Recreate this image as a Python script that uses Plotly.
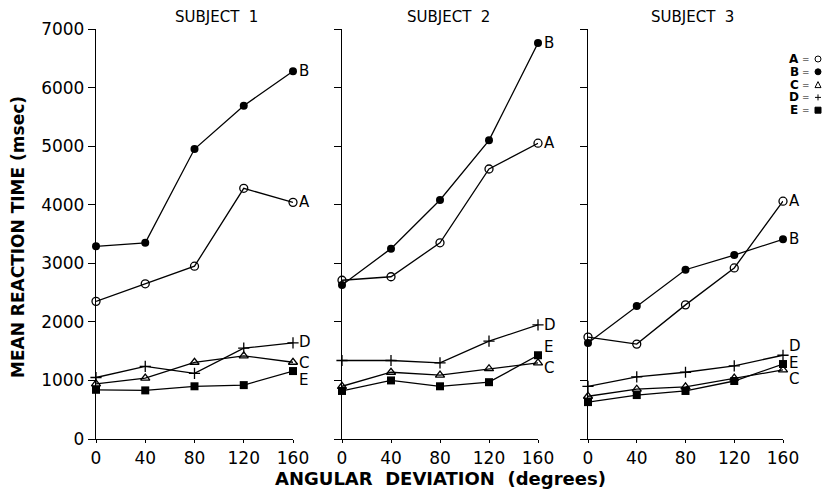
import plotly.graph_objects as go

angles = [0, 40, 80, 120, 160]
subjects = ["SUBJECT 1", "SUBJECT 2", "SUBJECT 3"]
y_ticks = [0, 1000, 2000, 3000, 4000, 5000, 6000, 7000]

# Mean reaction time (msec) per subject per condition
s1_A = [2350, 2650, 2950, 4280, 4040]
s1_B = [3290, 3350, 4950, 5690, 6280]
s1_C = [940, 1040, 1310, 1420, 1310]
s1_D = [1050, 1240, 1120, 1550, 1640]
s1_E = [840, 830, 900, 920, 1160]

s2_A = [2710, 2770, 3350, 4610, 5050]
s2_B = [2630, 3250, 4080, 5100, 6760]
s2_C = [900, 1140, 1090, 1200, 1300]
s2_D = [1340, 1340, 1300, 1670, 1950]
s2_E = [820, 1000, 900, 970, 1430]

s3_A = [1740, 1620, 2290, 2920, 4060]
s3_B = [1640, 2270, 2890, 3140, 3410]
s3_C = [730, 850, 890, 1040, 1180]
s3_D = [900, 1060, 1140, 1250, 1430]
s3_E = [630, 750, 820, 990, 1280]

data = [
    {"A": s1_A, "B": s1_B, "C": s1_C, "D": s1_D, "E": s1_E},
    {"A": s2_A, "B": s2_B, "C": s2_C, "D": s2_D, "E": s2_E},
    {"A": s3_A, "B": s3_B, "C": s3_C, "D": s3_D, "E": s3_E},
]

# label pixel offsets (yshift) for end labels per panel
label_shift = [
    {"A": 0, "B": 0, "C": -1, "D": 1, "E": -9},
    {"A": 0, "B": 0, "C": -5, "D": 0, "E": 8},
    {"A": 0, "B": 0, "C": -9, "D": 9, "E": 1},
]

markers = {
    "A": dict(symbol="circle-open", size=8, color="black", line=dict(width=1.3, color="black")),
    "B": dict(symbol="circle", size=8, color="black"),
    "C": dict(symbol="triangle-up-open", size=8, color="black", line=dict(width=1.3, color="black")),
    "D": dict(symbol="cross-thin-open", size=8, color="black", line=dict(width=1.3, color="black")),
    "E": dict(symbol="square", size=8, color="black"),
}

# The page body has an 8px margin; size the figure so it fills the 833x497 window.
OFF = 8
W, H = 833 - OFF, 497 - OFF
ml, mt = 96 - OFF, 29 - OFF
mr, mb = 833 - 783, 497 - 439
pw = W - ml - mr
ph = H - mt - mb
domains = [
    [0.0, (293 - 96) / pw],
    [(342 - 96) / pw, (538 - 96) / pw],
    [(588 - 96) / pw, 1.0],
]

def px_x(px):
    return (px - 96) / pw

def px_y(py):
    return (439 - py) / ph

FONT = "DejaVu Sans"
fig = go.Figure()
annotations = []

for i, d in enumerate(data):
    xa = "x" if i == 0 else f"x{i+1}"
    ya = "y" if i == 0 else f"y{i+1}"
    for k in ["D", "C", "E", "A", "B"]:
        fig.add_trace(go.Scatter(
            x=angles, y=d[k], mode="lines+markers", xaxis=xa, yaxis=ya,
            line=dict(color="black", width=1.3), marker=markers[k],
            cliponaxis=False, showlegend=False, name=k,
        ))
        annotations.append(dict(
            x=angles[-1], y=d[k][-1], xref=xa, yref=ya, text=k, showarrow=False,
            xanchor="left", yanchor="middle", xshift=5, yshift=label_shift[i][k],
            font=dict(family=FONT, size=15, color="black"), borderpad=0,
        ))

layout = dict(
    width=W, height=H, margin=dict(l=ml, r=mr, t=mt, b=mb),
    paper_bgcolor="white", plot_bgcolor="white",
    font=dict(family=FONT, color="black"),
)
for i in range(3):
    sx = "" if i == 0 else str(i + 1)
    layout[f"xaxis{sx}"] = dict(
        domain=domains[i], range=[0, 160], tickvals=angles, ticktext=[str(a) for a in angles],
        showgrid=False, zeroline=False, showline=True, linecolor="black", linewidth=1.3,
        ticks="outside", ticklen=3, tickcolor="black",
        tickfont=dict(family=FONT, size=17, color="black"),
        anchor="y" if i == 0 else f"y{i+1}", fixedrange=True,
    )
    layout[f"yaxis{sx}"] = dict(
        range=[0, 7000], tickvals=y_ticks,
        ticktext=[str(v) for v in y_ticks],
        showticklabels=(i == 0),
        showgrid=False, zeroline=False, showline=True, linecolor="black", linewidth=1.3,
        ticks="outside", ticklen=7, tickcolor="black",
        tickfont=dict(family=FONT, size=17, color="black"),
        anchor="x" if i == 0 else f"x{i+1}",
    )
fig.update_layout(**layout)

# Subject titles
title_px = [216, 448, 692]
for t, px in zip(subjects, title_px):
    annotations.append(dict(
        x=px_x(px), y=px_y(17), xref="paper", yref="paper",
        text=t.replace(" ", "\u00a0\u00a0"), showarrow=False, xanchor="center", yanchor="middle",
        font=dict(family=FONT, size=15, color="black"),
    ))

# Axis titles
annotations.append(dict(
    x=px_x(18), y=px_y(237), xref="paper", yref="paper",
    text="<b>MEAN REACTION TIME (msec)</b>", textangle=-90, showarrow=False,
    xanchor="center", yanchor="middle", font=dict(family=FONT, size=17, color="black"),
))
annotations.append(dict(
    x=px_x(440), y=px_y(478), xref="paper", yref="paper",
    text="<b>ANGULAR\u00a0\u00a0DEVIATION\u00a0\u00a0(degrees)</b>", showarrow=False,
    xanchor="center", yanchor="middle", font=dict(family=FONT, size=18, color="black"),
))

# Legend key (letters as text, symbols as paper-referenced shapes)
legend_keys = ["A", "B", "C", "D", "E"]
legend_py = [59 + 12.8 * j for j in range(5)]
shapes = []
sx0 = 818
r = 3.0
for k, py in zip(legend_keys, legend_py):
    y = px_y(py)
    annotations.append(dict(
        x=px_x(794), y=y, xref="paper", yref="paper",
        text=f"<b>{k}</b>", showarrow=False, xanchor="center", yanchor="middle",
        font=dict(family=FONT, size=12, color="black"), borderpad=0,
    ))
    annotations.append(dict(
        x=px_x(806), y=y, xref="paper", yref="paper",
        text="=", showarrow=False, xanchor="center", yanchor="middle",
        font=dict(family=FONT, size=9, color="black"), borderpad=0,
    ))
    x0, x1 = px_x(sx0 - r), px_x(sx0 + r)
    y0, y1 = px_y(py + r), px_y(py - r)
    if k == "A":
        shapes.append(dict(type="circle", xref="paper", yref="paper", x0=x0, x1=x1, y0=y0, y1=y1,
                           line=dict(color="black", width=1), fillcolor="white"))
    elif k == "B":
        shapes.append(dict(type="circle", xref="paper", yref="paper", x0=x0, x1=x1, y0=y0, y1=y1,
                           line=dict(color="black", width=1), fillcolor="black"))
    elif k == "C":
        shapes.append(dict(type="path", xref="paper", yref="paper",
                           path=f"M {x0} {y0} L {x1} {y0} L {px_x(sx0)} {y1} Z",
                           line=dict(color="black", width=1)))
    elif k == "D":
        shapes.append(dict(type="line", xref="paper", yref="paper", x0=x0, x1=x1, y0=px_y(py), y1=px_y(py),
                           line=dict(color="black", width=1)))
        shapes.append(dict(type="line", xref="paper", yref="paper", x0=px_x(sx0), x1=px_x(sx0), y0=y0, y1=y1,
                           line=dict(color="black", width=1)))
    else:
        shapes.append(dict(type="rect", xref="paper", yref="paper", x0=x0, x1=x1, y0=y0, y1=y1,
                           line=dict(color="black", width=1), fillcolor="black"))

fig.update_layout(annotations=annotations, shapes=shapes)
fig.write_html("out.html")
